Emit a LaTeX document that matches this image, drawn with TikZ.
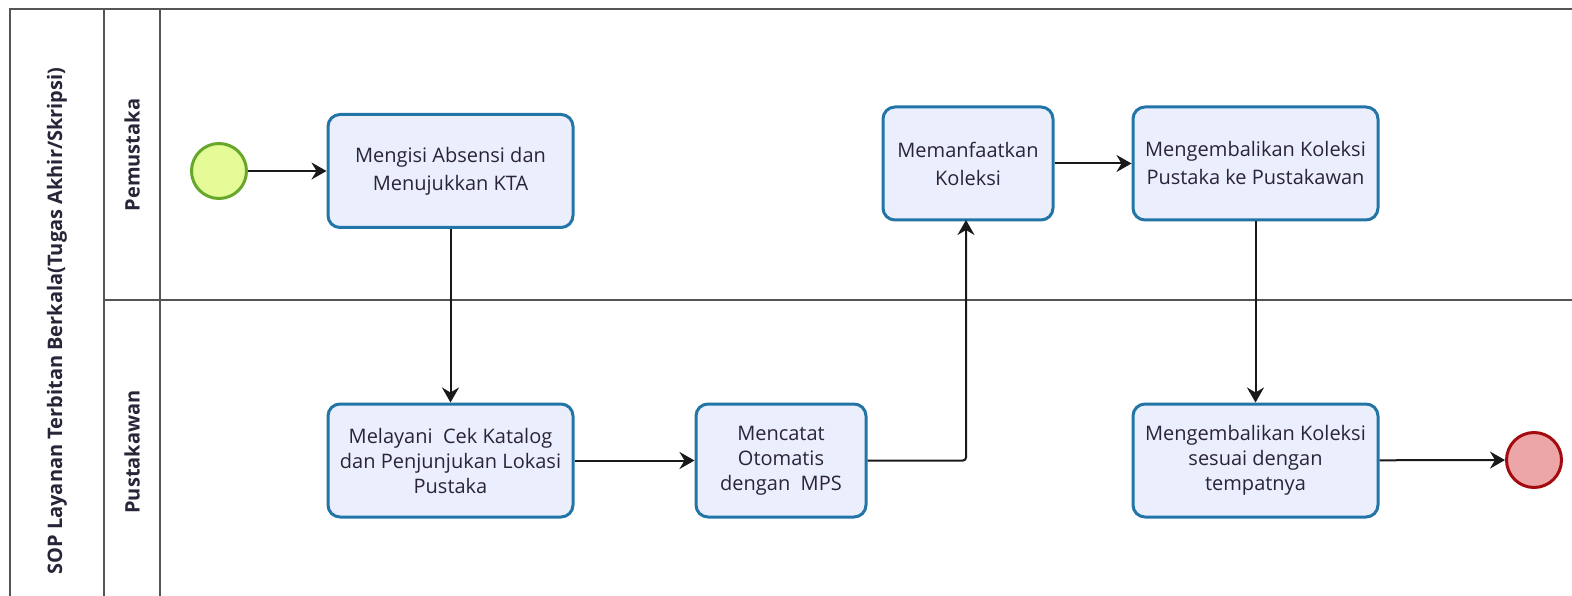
\documentclass[tikz,border=0pt]{standalone}
\usepackage{fontspec}
\setmainfont{Open Sans}
\usetikzlibrary{arrows.meta}
\definecolor{boxfill}{HTML}{EBEFFD}
\definecolor{boxdraw}{HTML}{2275A6}
\definecolor{startfill}{HTML}{E4FB98}
\definecolor{startdraw}{HTML}{67A82A}
\definecolor{endfill}{HTML}{ECA6A7}
\definecolor{enddraw}{HTML}{A50A0E}
\definecolor{lanedraw}{HTML}{555555}
\definecolor{txt}{HTML}{2A2438}
\tikzset{
  x=1pt, y=-1pt,
  task/.style={draw=boxdraw, fill=boxfill, line width=3pt, rounded corners=12pt,
    minimum width=#1, minimum height=113pt, align=center, inner sep=2pt,
    font=\fontsize{20}{25}\selectfont, text=txt},
  task/.default=245pt,
  two/.style={font=\fontsize{20}{28}\selectfont},
  ev/.style={circle, minimum size=55pt, inner sep=0pt, line width=3pt},
  flow/.style={-{Stealth[length=15pt,width=17pt,inset=5pt]}, line width=2pt, black!90},
  lane/.style={draw=lanedraw, line width=1.6pt},
  lbl/.style={rotate=90, font=\bfseries\fontsize{20}{22}\selectfont, text=txt}
}
\begin{document}
\begin{tikzpicture}
\useasboundingbox (0,0) rectangle (1572,596);
\fill[white] (0,0) rectangle (1572,596);
% frame
\draw[lane] (10,600) -- (10,9) -- (1580,9);
\draw[lane] (104,600) -- (104,9);
\draw[lane] (160,600) -- (160,9);
\draw[lane] (104,300) -- (1580,300);
\node[lbl] (title) at (57,321) {SOP Layanan Terbitan Berkala(Tugas Akhir/Skripsi)};
\node[lbl] (l1) at (132,155) {Pemustaka};
\node[lbl] (l2) at (132,452) {Pustakawan};
% events
\node[ev, draw=startdraw, fill=startfill] (start) at (219,171) {};
\node[ev, draw=enddraw, fill=endfill] (end) at (1534,460) {};
% tasks
\node[task, two] (t1) at (450.5,171) {Mengisi Absensi dan\\Menujukkan KTA};
\node[task] (t2) at (450.5,460.5) {Melayani\ \ Cek Katalog\\dan Penjunjukan Lokasi\\Pustaka};
\node[task=170pt] (t3) at (781,460.5) {Mencatat\\Otomatis\\dengan\ \ MPS};
\node[task=170pt, two] (t4) at (968,163.5) {Memanfaatkan\\Koleksi};
\node[task, two] (t5) at (1255.5,163.5) {Mengembalikan Koleksi\\Pustaka ke Pustakawan};
\node[task] (t6) at (1255.5,460.5) {Mengembalikan Koleksi\\sesuai dengan\\tempatnya};
% flows
\draw[flow] (start) -- (t1);
\draw[flow] (t1) -- (t2);
\draw[flow] (t2) -- (t3);
\draw[flow, rounded corners=3pt] (t3.east) -- (966,460.5) -- (966,220);
\draw[flow] (t4) -- (t5);
\draw[flow] (t5) -- (t6);
\draw[flow] (t6) -- (end);
\end{tikzpicture}
\end{document}
